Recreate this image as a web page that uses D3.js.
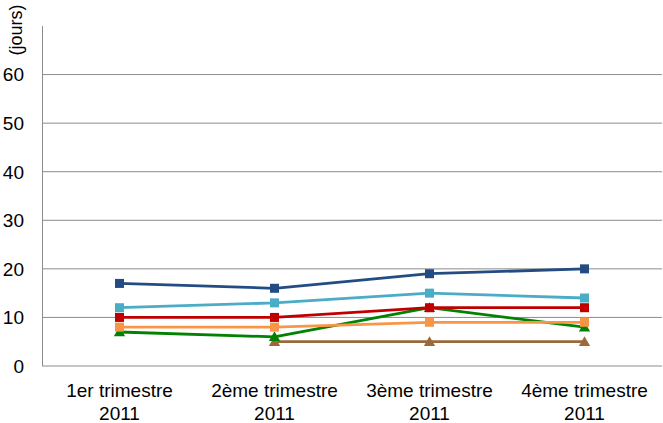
<!DOCTYPE html>
<html>
<head>
<meta charset="utf-8">
<script src="https://cdn.jsdelivr.net/npm/d3@7"></script>
<style>
  body { margin: 0; background: #fff; }
  text { font-family: "Liberation Sans", Arial, sans-serif; fill: #000; }
</style>
</head>
<body>
<div id="chart"></div>
<script>
const categories = ["1er trimestre|2011", "2ème trimestre|2011", "3ème trimestre|2011", "4ème trimestre|2011"];
const yTicks = [0, 10, 20, 30, 40, 50, 60];

const darkBlue = [17, 16, 19, 20];
const lightBlue = [12, 13, 15, 14];
const red = [10, 10, 12, 12];
const orange = [8, 8, 9, 9];
const green = [7, 6, 12, 8];
const brown = [null, 5, 5, 5];

const series = [
  { values: brown, color: "#9b6a3a", marker: "triangle" },
  { values: green, color: "#038103", marker: "triangle" },
  { values: orange, color: "#f79646", marker: "square" },
  { values: red, color: "#c00000", marker: "square" },
  { values: lightBlue, color: "#4bacc6", marker: "square" },
  { values: darkBlue, color: "#234d82", marker: "square" },
];

const width = 663, height = 423;
const margin = { top: 26, right: 1, bottom: 57, left: 42 };

const svg = d3.select("#chart").append("svg")
  .attr("width", width)
  .attr("height", height);

const x = d3.scaleBand()
  .domain(d3.range(categories.length))
  .range([margin.left, width - margin.right]);

const y = d3.scaleLinear()
  .domain([0, 70])
  .range([height - margin.bottom, margin.top]);

// gridlines
svg.append("g")
  .selectAll("line")
  .data(yTicks.filter((d) => d > 0))
  .join("line")
  .attr("x1", margin.left)
  .attr("x2", width - margin.right)
  .attr("y1", (d) => y(d))
  .attr("y2", (d) => y(d))
  .attr("stroke", "#8c8c8c")
  .attr("stroke-width", 1);

// axes
svg.append("line")
  .attr("x1", margin.left + 0.5).attr("x2", margin.left + 0.5)
  .attr("y1", margin.top).attr("y2", y(0))
  .attr("stroke", "#8c8c8c");
svg.append("line")
  .attr("x1", margin.left).attr("x2", width - margin.right)
  .attr("y1", y(0)).attr("y2", y(0))
  .attr("stroke", "#8c8c8c");

// y tick labels
svg.append("g")
  .selectAll("text")
  .data(yTicks)
  .join("text")
  .attr("x", 24)
  .attr("y", (d) => y(d))
  .attr("dy", "0.36em")
  .attr("text-anchor", "end")
  .attr("font-size", 19)
  .text((d) => d);

svg.append("text")
  .attr("transform", `translate(22,30) rotate(-90)`)
  .attr("text-anchor", "middle")
  .attr("font-size", 18)
  .text("(jours)");

// x labels
const xl = svg.append("g")
  .selectAll("text")
  .data(categories)
  .join("text")
  .attr("text-anchor", "middle")
  .attr("font-size", 19)
  .attr("transform", (d, i) => `translate(${x(i) + x.bandwidth() / 2},0)`);
xl.append("tspan").attr("x", 0).attr("y", 397).text((d) => d.split("|")[0]);
xl.append("tspan").attr("x", 0).attr("y", 420).text((d) => d.split("|")[1]);

const cx = (i) => x(i) + x.bandwidth() / 2;
const line = d3.line()
  .defined((d) => d != null)
  .x((d, i) => cx(i))
  .y((d) => y(d));

const tri = d3.symbol().type(d3.symbolTriangle).size(55);

series.forEach((s) => {
  const g = svg.append("g");
  g.append("path")
    .attr("d", line(s.values))
    .attr("fill", "none")
    .attr("stroke", s.color)
    .attr("stroke-width", 2.8)
    .attr("stroke-linejoin", "round");
  const pts = s.values.map((v, i) => ({ v, i })).filter((d) => d.v != null);
  if (s.marker === "square") {
    g.selectAll("rect")
      .data(pts)
      .join("rect")
      .attr("x", (d) => cx(d.i) - 4.5)
      .attr("y", (d) => y(d.v) - 4.5)
      .attr("width", 9)
      .attr("height", 9)
      .attr("fill", s.color);
  } else {
    g.selectAll("path.m")
      .data(pts)
      .join("path")
      .attr("class", "m")
      .attr("transform", (d) => `translate(${cx(d.i)},${y(d.v) + 1})`)
      .attr("d", tri)
      .attr("fill", s.color);
  }
});
</script>
</body>
</html>
